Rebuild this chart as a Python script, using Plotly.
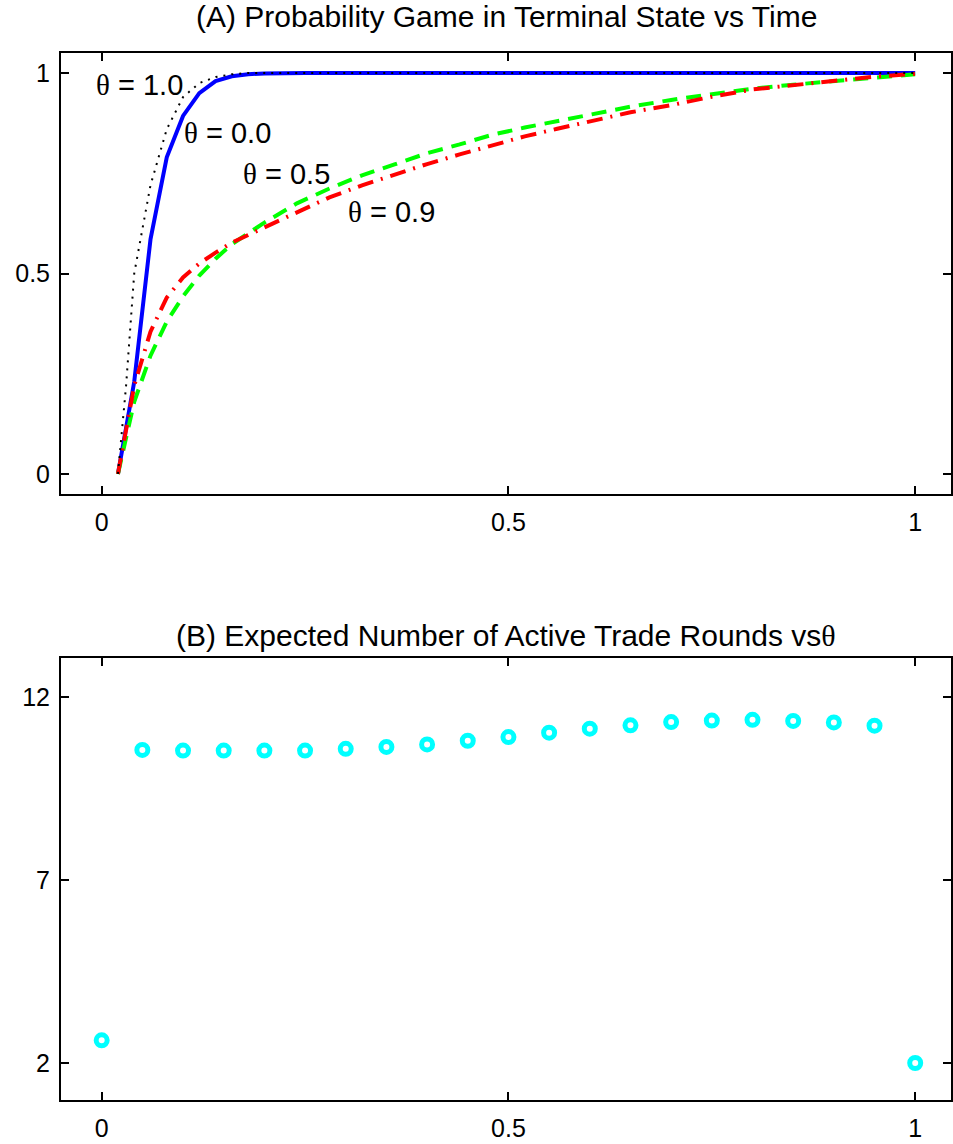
import plotly.graph_objects as go

# ---------------- Panel A data ----------------
t_blue = [0.02, 0.04, 0.06, 0.08, 0.10, 0.12, 0.14, 0.16, 0.18, 0.20, 0.25, 0.30, 0.40, 0.50, 0.60, 0.70, 0.80, 0.90, 1.00]
p_theta00 = [0.0, 0.23, 0.585, 0.79, 0.893, 0.95, 0.98, 0.992, 0.997, 0.999, 1.0, 1.0, 1.0, 1.0, 1.0, 1.0, 1.0, 1.0, 1.0]

t_black = [0.02, 0.03, 0.04, 0.06, 0.08, 0.10, 0.12, 0.14, 0.16, 0.18, 0.20, 0.30, 0.40, 0.50, 0.60, 0.70, 0.80, 0.90, 1.00]
p_theta10 = [0.0, 0.22, 0.50, 0.72, 0.86, 0.94, 0.975, 0.99, 0.997, 1.0, 1.0, 1.0, 1.0, 1.0, 1.0, 1.0, 1.0, 1.0, 1.0]

t_mid = [0.02, 0.04, 0.06, 0.08, 0.10, 0.12, 0.14, 0.16, 0.20, 0.24, 0.28, 0.32, 0.36, 0.40, 0.44, 0.48,
         0.52, 0.56, 0.60, 0.65, 0.70, 0.75, 0.80, 0.85, 0.90, 0.95, 1.00]
p_theta05 = [0.0, 0.18, 0.295, 0.38, 0.443, 0.495, 0.537, 0.573, 0.627, 0.675, 0.712, 0.745, 0.772, 0.80,
             0.822, 0.846, 0.864, 0.880, 0.897, 0.916, 0.933, 0.948, 0.961, 0.971, 0.980, 0.989, 0.997]
p_theta09 = [0.0, 0.22, 0.355, 0.44, 0.49, 0.525, 0.552, 0.577, 0.615, 0.652, 0.69, 0.72, 0.747, 0.773,
             0.797, 0.820, 0.842, 0.861, 0.879, 0.902, 0.920, 0.941, 0.959, 0.970, 0.980, 0.991, 0.998]

# ---------------- Panel B data ----------------
theta_vals = [0.0, 0.05, 0.10, 0.15, 0.20, 0.25, 0.30, 0.35, 0.40, 0.45, 0.50,
              0.55, 0.60, 0.65, 0.70, 0.75, 0.80, 0.85, 0.90, 0.95, 1.0]
rounds = [2.62, 10.55, 10.53, 10.53, 10.53, 10.53, 10.58, 10.63, 10.70, 10.80, 10.90,
          11.02, 11.13, 11.22, 11.31, 11.35, 11.37, 11.34, 11.30, 11.21, 2.0]

xticks = [0, 0.5, 1]
xticklabels = ["0", "0.5", "1"]
yticksA = [0, 0.5, 1]
yticklabelsA = ["0", "0.5", "1"]
yticksB = [2, 7, 12]
yticklabelsB = ["2", "7", "12"]

FONT = "Liberation Sans, Arial, Helvetica, sans-serif"
SERIF = "Liberation Serif, Times New Roman, serif"

fig = go.Figure()

fig.add_trace(go.Scatter(x=t_blue, y=p_theta00, mode="lines", line=dict(color="#0000FF", width=4),
                         xaxis="x", yaxis="y", showlegend=False))
fig.add_trace(go.Scatter(x=t_mid, y=p_theta05, mode="lines",
                         line=dict(color="#00FF00", width=4, dash="15px,9px"),
                         xaxis="x", yaxis="y", showlegend=False))
fig.add_trace(go.Scatter(x=t_mid, y=p_theta09, mode="lines",
                         line=dict(color="#FF0000", width=4, dash="16px,8px,2px,8px"),
                         xaxis="x", yaxis="y", showlegend=False))
fig.add_trace(go.Scatter(x=t_black, y=p_theta10, mode="lines",
                         line=dict(color="#000000", width=2, dash="2px,6px"),
                         xaxis="x", yaxis="y", showlegend=False))

fig.add_trace(go.Scatter(x=theta_vals, y=rounds, mode="markers",
                         marker=dict(symbol="circle-open", size=11, color="#00FFFF",
                                     line=dict(color="#00FFFF", width=5)),
                         xaxis="x2", yaxis="y2", showlegend=False))

axis_common = dict(
    showgrid=False, zeroline=False, showline=True, linecolor="black", linewidth=2,
    ticks="inside", ticklen=8, tickwidth=1.5, tickcolor="black",
    tickfont=dict(family=FONT, size=25, color="black"),
)

fig.update_layout(
    width=953, height=1144,
    margin=dict(l=61, r=0, t=53, b=44),
    paper_bgcolor="white", plot_bgcolor="white",
    xaxis=dict(domain=[0, 1], range=[-0.05, 1.044], anchor="y", mirror="ticks",
               tickvals=xticks, ticktext=xticklabels, ticklabelstandoff=5, **axis_common),
    yaxis=dict(domain=[0.5788, 1.0], range=[-0.05, 1.05], anchor="x", mirror="ticks",
               tickvals=yticksA, ticktext=yticklabelsA, ticklabelstandoff=4, **axis_common),
    xaxis2=dict(domain=[0, 1], range=[-0.05, 1.044], anchor="y2", mirror="ticks",
                tickvals=xticks, ticktext=xticklabels, ticklabelstandoff=5, **axis_common),
    yaxis2=dict(domain=[0.0, 0.4222], range=[0.99, 13.06], anchor="x2", mirror="ticks",
                tickvals=yticksB, ticktext=yticklabelsB, ticklabelstandoff=4, **axis_common),
)

def theta_text(val):
    return f'<span style="font-family:{SERIF}">θ</span> = {val}'

labels = [("1.0", -0.009, 0.970), ("0.0", 0.099, 0.851), ("0.5", 0.171, 0.747), ("0.9", 0.300, 0.653)]
for val, lx, ly in labels:
    fig.add_annotation(x=lx, y=ly, xref="x", yref="y", text=theta_text(val), showarrow=False,
                       xanchor="left", yanchor="middle",
                       font=dict(family=FONT, size=29, color="black"))

fig.add_annotation(x=0.5, y=1.0353, xref="paper", yref="paper",
                   text="(A) Probability Game in Terminal State vs Time", showarrow=False,
                   xanchor="center", yanchor="middle", font=dict(family=FONT, size=30, color="black"))
fig.add_annotation(x=0.5, y=0.4432, xref="paper", yref="paper",
                   text=f'(B) Expected Number of Active Trade Rounds vs<span style="font-family:{SERIF}">θ</span>',
                   showarrow=False, xanchor="center", yanchor="middle",
                   font=dict(family=FONT, size=30, color="black"))

fig.write_html("out.html", config={"displayModeBar": False},
               post_script="document.body.style.margin='0';document.body.style.padding='0';")
